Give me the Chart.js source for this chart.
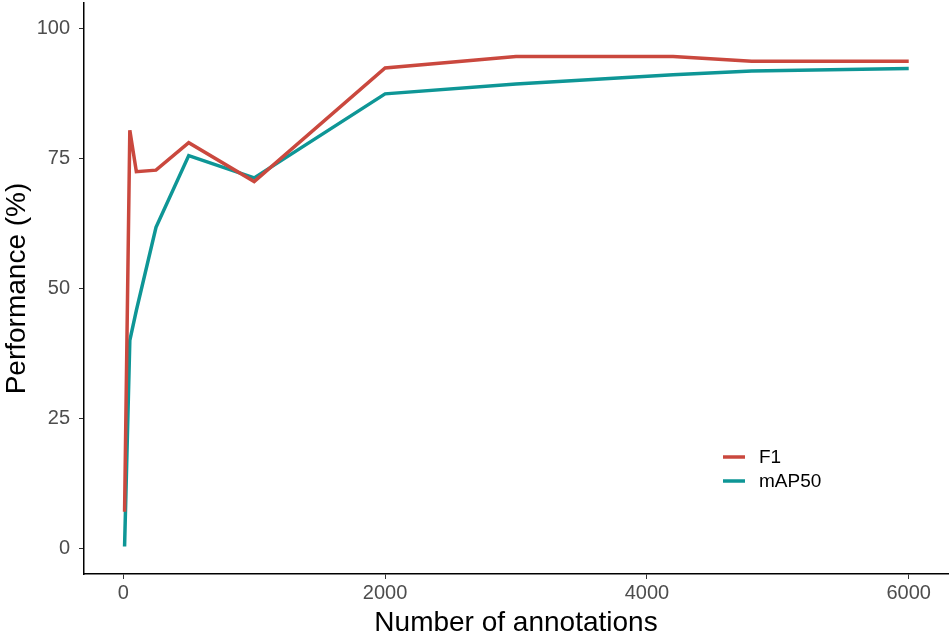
<!DOCTYPE html>
<html>
<head>
<meta charset="utf-8">
<script src="https://cdn.jsdelivr.net/npm/chart.js@4.4.0/dist/chart.umd.min.js"></script>
<style>
    html, body { margin: 0; padding: 0; background: #fff; }
    #wrap { width: 950px; height: 640px; }
</style>
</head>
<body>
<div id="wrap"><canvas id="perfChart" width="950" height="640"></canvas></div>
<script>
// Number of annotations used for training
const annotations = [10, 50, 100, 250, 500, 1000, 2000, 3000, 4200, 4800, 6000];
// Performance values (%)
const f1Values    = [7, 80.5, 72.5, 72.8, 78.1, 70.6, 92.5, 94.7, 94.7, 93.8, 93.8];
const mapValues   = [0.3, 40, 45.8, 61.8, 75.6, 71.3, 87.5, 89.4, 91.2, 91.9, 92.4];
const xTicks = [0, 2000, 4000, 6000];
const yTicks = [0, 25, 50, 75, 100];

const FONT = '"Liberation Sans", Arial, sans-serif';

function toPoints(values) {
    return annotations.map((a, i) => ({ x: a, y: values[i] }));
}

/**
 * Legend drawn inside the panel, ggplot style
 */
const insideLegend = {
    id: 'insideLegend',
    afterDatasetsDraw(chart) {
        const ctx = chart.ctx;
        const x0 = 723, y0 = 457, gap = 24;
        ctx.save();
        chart.data.datasets.forEach((ds, i) => {
            const y = y0 + i * gap;
            ctx.strokeStyle = ds.borderColor;
            ctx.lineWidth = 3.5;
            ctx.beginPath();
            ctx.moveTo(x0, y);
            ctx.lineTo(x0 + 22, y);
            ctx.stroke();
            ctx.fillStyle = '#000';
            ctx.font = '19px ' + FONT;
            ctx.textBaseline = 'middle';
            ctx.fillText(ds.label, x0 + 36, y + 1);
        });
        ctx.restore();
    }
};

new Chart(document.getElementById('perfChart'), {
    type: 'line',
    data: {
        datasets: [
            {
                label: 'F1',
                data: toPoints(f1Values),
                borderColor: 'rgb(202, 72, 62)',
                borderWidth: 3.5,
                pointRadius: 0,
                tension: 0
            },
            {
                label: 'mAP50',
                data: toPoints(mapValues),
                borderColor: 'rgb(14, 150, 150)',
                borderWidth: 3.5,
                pointRadius: 0,
                tension: 0
            }
        ]
    },
    options: {
        responsive: false,
        animation: false,
        layout: { padding: { top: 3, right: 2, left: 0, bottom: 0 } },
        plugins: {
            legend: { display: false }, // custom legend inside panel
            tooltip: { enabled: false }
        },
        scales: {
            x: {
                type: 'linear',
                min: -300,
                max: 6300,
                afterBuildTicks: axis => { axis.ticks = xTicks.map(v => ({ value: v })); },
                afterFit: axis => {
                    axis.height = 66;
                    axis.paddingLeft = 0;
                    axis.paddingRight = 0;
                },
                grid: { drawOnChartArea: false, drawTicks: true, tickLength: 5, color: '#333', lineWidth: 1 },
                border: { display: true, color: '#000', width: 1.5 },
                ticks: {
                    color: '#4d4d4d',
                    font: { family: FONT, size: 20 },
                    padding: 2,
                    maxRotation: 0,
                    callback: v => v
                },
                title: {
                    display: true,
                    text: 'Number of annotations',
                    color: '#000',
                    font: { family: FONT, size: 28 },
                    padding: { top: 0, bottom: 0 }
                }
            },
            y: {
                min: -5,
                max: 105,
                afterBuildTicks: axis => { axis.ticks = yTicks.map(v => ({ value: v })); },
                afterFit: axis => {
                    axis.width = 84;
                    axis.paddingTop = 0;
                    axis.paddingBottom = 0;
                },
                grid: { drawOnChartArea: false, drawTicks: true, tickLength: 5, color: '#333', lineWidth: 1 },
                border: { display: true, color: '#000', width: 1.5 },
                ticks: {
                    color: '#4d4d4d',
                    font: { family: FONT, size: 20 },
                    padding: 9
                },
                title: {
                    display: true,
                    text: 'Performance (%)',
                    color: '#000',
                    font: { family: FONT, size: 28 },
                    padding: { top: 0, bottom: 2 }
                }
            }
        }
    },
    plugins: [insideLegend]
});
</script>
</body>
</html>
